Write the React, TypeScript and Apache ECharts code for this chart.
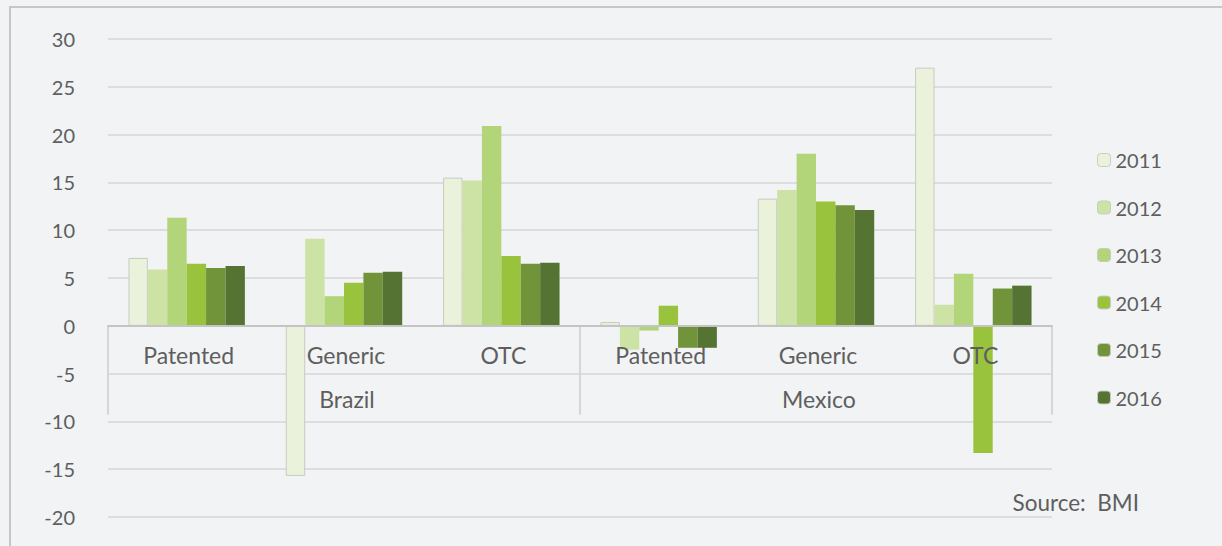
import React, { useEffect, useRef } from "react";
import * as echarts from "echarts";

const categories = ["Patented", "Generic", "OTC", "Patented", "Generic", "OTC"];
const countries = ["Brazil", "Mexico"];
const years = ["2011", "2012", "2013", "2014", "2015", "2016"];
const colors = ["#EAF2DC", "#CDE2A5", "#B2D579", "#9AC33D", "#71943A", "#557434"];

// values per year across the 6 categories
const v2011 = [7.1, -15.7, 15.5, 0.4, 13.3, 27.0];
const v2012 = [5.9, 9.1, 15.2, -2.5, 14.2, 2.2];
const v2013 = [11.3, 3.1, 20.9, -0.5, 18.0, 5.45];
const v2014 = [6.5, 4.5, 7.3, 2.1, 13.0, -13.3];
const v2015 = [6.05, 5.55, 6.5, -2.3, 12.6, 3.9];
const v2016 = [6.25, 5.65, 6.6, -2.3, 12.1, 4.2];
const seriesValues = [v2011, v2012, v2013, v2014, v2015, v2016];

const yTicks = { min: -20, max: 30, interval: 5 };
const FONT = "Lato, 'Open Sans', sans-serif";
const TEXT = "#5e5e5e";

export default function App() {
  const ref = useRef<HTMLDivElement>(null);
  useEffect(() => {
    if (!ref.current) return;
    const chart = echarts.init(ref.current, undefined, { renderer: "svg" });
    const option: any = {
      animation: false,
      backgroundColor: "#F2F3F5",
      textStyle: { fontFamily: FONT },
      grid: { left: 108, right: 170, top: 39, bottom: 29, containLabel: false, outerBoundsMode: "none" },
      legend: {
        orient: "vertical",
        left: 1092,
        top: 145,
        itemWidth: 13,
        itemHeight: 13,
        itemGap: 27.5,
        itemStyle: { borderColor: "#c8cbc2", borderWidth: 1 },
        textStyle: { fontSize: 20, lineHeight: 20, color: TEXT, fontFamily: FONT },
        data: years,
      },
      xAxis: {
        type: "category",
        data: categories,
        axisLine: { onZero: true, lineStyle: { color: "#c4c4c4", width: 2 } },
        axisTick: { show: false },
        axisLabel: { show: false },
        z: 10,
      },
      yAxis: {
        type: "value",
        min: yTicks.min,
        max: yTicks.max,
        interval: yTicks.interval,
        axisLine: { show: false },
        axisTick: { show: false },
        axisLabel: { fontSize: 20, color: TEXT, margin: 33, fontFamily: FONT },
        splitLine: { lineStyle: { color: "#dcdddf", width: 2 } },
      },
      series: years.map((y, i) => ({
        name: y,
        type: "bar",
        data: seriesValues[i],
        barGap: "0%",
        barCategoryGap: "26%",
        itemStyle: {
          color: colors[i],
          borderColor: i === 0 ? "#c8cbc2" : colors[i],
          borderWidth: i === 0 ? 1 : 0,
        },
        z: 2,
      })),
    };
    chart.setOption(option);

    const x0 = chart.convertToPixel({ xAxisIndex: 0 }, 0) as number;
    const x1 = chart.convertToPixel({ xAxisIndex: 0 }, 1) as number;
    const band = x1 - x0;
    const yZero = chart.convertToPixel({ yAxisIndex: 0 }, 0) as number;
    const boundaries = [0, 3, 6].map((k) => x0 - band / 2 + k * band);
    const elements: any[] = [
      {
        type: "rect",
        shape: { x: 10, y: 7, width: 1400, height: 700 },
        style: { fill: "none", stroke: "#c6c6c6", lineWidth: 2 },
        silent: true,
      },
    ];
    boundaries.forEach((bx) => {
      elements.push({
        type: "line",
        shape: { x1: bx, y1: yZero, x2: bx, y2: yZero + 89 },
        style: { stroke: "#d6d6d8", lineWidth: 2 },
        z: 5,
      });
    });
    categories.forEach((c, k) => {
      const cx = chart.convertToPixel({ xAxisIndex: 0 }, k) as number;
      elements.push({
        type: "text",
        x: cx + 2,
        y: yZero + 29,
        style: {
          text: c,
          fill: TEXT,
          font: `23px ${FONT}`,
          textAlign: "center",
          textVerticalAlign: "middle",
        },
        z: 20,
      });
    });
    countries.forEach((c, k) => {
      const cx = (boundaries[k] + boundaries[k + 1]) / 2;
      elements.push({
        type: "text",
        x: cx + 3,
        y: yZero + 73,
        style: {
          text: c,
          fill: TEXT,
          font: `23px ${FONT}`,
          textAlign: "center",
          textVerticalAlign: "middle",
        },
        z: 20,
      });
    });
    elements.push({
      type: "text",
      x: 1139,
      y: 502,
      style: {
        text: "Source:  BMI",
        fill: TEXT,
        font: `22.5px ${FONT}`,
        textAlign: "right",
        textVerticalAlign: "middle",
      },
      z: 20,
    });
    chart.setOption({ graphic: { elements } });
    return () => chart.dispose();
  }, []);
  return (
    <div
      style={{ position: "fixed", left: 0, top: 0, width: 1222, height: 546, background: "#F2F3F5" }}
    >
      <div ref={ref} style={{ width: 1222, height: 546 }} />
    </div>
  );
}
